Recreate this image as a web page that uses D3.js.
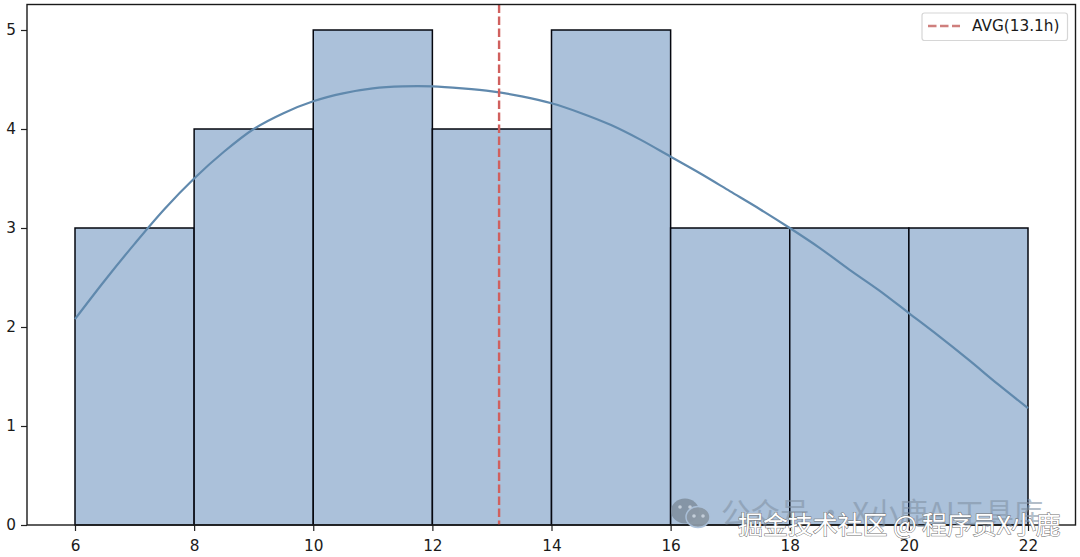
<!DOCTYPE html>
<html><head><meta charset="utf-8">
<script src="https://cdn.jsdelivr.net/npm/d3@7/dist/d3.min.js"></script>
<style>html,body{margin:0;padding:0;background:#fff;overflow:hidden}svg{display:block}</style>
</head><body><svg id="c" width="1080" height="557"></svg>
<script>
const binEdges = [6,8,10,12,14,16,18,20,22];
const counts = [3,4,5,4,5,3,3,3];
const kdeX = [6,6.5,7,7.5,8,8.5,9,9.5,10,10.5,11,11.5,12,12.5,13,13.5,14,14.5,15,15.5,16,16.5,17,17.5,18,18.5,19,19.5,20,20.5,21,21.5,22];
const kdeY = [2.08,2.47,2.84,3.19,3.5,3.77,4.0,4.16,4.28,4.36,4.41,4.43,4.43,4.41,4.38,4.33,4.26,4.16,4.04,3.89,3.72,3.55,3.37,3.19,3.0,2.8,2.58,2.37,2.14,1.91,1.67,1.42,1.18];
const avg = 13.12;
const xTicks = [6,8,10,12,14,16,18,20,22];
const yTicks = [0,1,2,3,4,5];
const legendLabel = "AVG(13.1h)";
const wm1 = "公众号 · X小鹿AI工具库";
const wm2 = "掘金技术社区 @ 程序员X小鹿";

const font = "'DejaVu Sans', sans-serif";
const svg = d3.select("#c");
const L=27,R=1075.5,T=4.5,B=525;
const x = d3.scaleLinear().domain([6,22]).range([75,1028]);
const y = d3.scaleLinear().domain([0,5]).range([B,30]);

const bars = d3.range(counts.length).map(i=>({a:binEdges[i],b:binEdges[i+1],c:counts[i]}));
svg.append("g").selectAll("rect").data(bars).join("rect")
  .attr("x",d=>x(d.a)).attr("width",d=>x(d.b)-x(d.a))
  .attr("y",d=>y(d.c)).attr("height",d=>B-y(d.c))
  .attr("fill","#abc1da").attr("stroke","#05070f").attr("stroke-width",1.5);

const line = d3.line().x((d,i)=>x(kdeX[i])).y(d=>y(d)).curve(d3.curveCatmullRom);
svg.append("path").attr("d",line(kdeY)).attr("fill","none").attr("stroke","#6089ad").attr("stroke-width",2.2);

svg.append("line").attr("x1",x(avg)).attr("x2",x(avg)).attr("y1",T).attr("y2",B)
  .attr("stroke","#d0605e").attr("stroke-width",2.4).attr("stroke-dasharray","8.5,3.5");

const gx = svg.append("g").attr("transform",`translate(0,${B})`)
  .call(d3.axisBottom(x).tickValues(xTicks).tickSize(6).tickPadding(5).tickFormat(d3.format("d")));
const gy = svg.append("g").attr("transform",`translate(${L},0)`)
  .call(d3.axisLeft(y).tickValues(yTicks).tickSize(6).tickPadding(5).tickFormat(d3.format("d")));
[gx,gy].forEach(g=>{
  g.select(".domain").remove();
  g.selectAll("line").attr("stroke","#222").attr("stroke-width",1.2);
  g.selectAll("text").attr("font-family",font).attr("font-size",15.3).attr("fill","#1a1a1a");
});
gx.selectAll("text").attr("dy","1em");
svg.append("rect").attr("x",L).attr("y",T).attr("width",R-L).attr("height",B-T)
  .attr("fill","none").attr("stroke","#1a1a1a").attr("stroke-width",1.4);

// legend
const lg = svg.append("g");
lg.append("rect").attr("x",922).attr("y",13).attr("width",145.5).attr("height",27.5).attr("rx",2.5)
  .attr("fill","#fff").attr("stroke","#d6d6d6").attr("stroke-width",1.2);
lg.append("line").attr("x1",928).attr("x2",960).attr("y1",26).attr("y2",26)
  .attr("stroke","#cf7f7d").attr("stroke-width",2.4).attr("stroke-dasharray","8.5,3.5");
lg.append("text").attr("x",972).attr("y",31).attr("font-family",font).attr("font-size",15.3).attr("fill","#1a1a1a").text(legendLabel);

// watermark
const wm = svg.append("g");
wm.append("ellipse").attr("cx",685).attr("cy",511).attr("rx",14).attr("ry",12.5).attr("fill","#7e8d9c").attr("opacity",0.85);
wm.append("ellipse").attr("cx",698).attr("cy",517).attr("rx",12).attr("ry",10.5).attr("fill","#8b98a5").attr("stroke","#abc1da").attr("stroke-width",1.5).attr("opacity",0.95);
[[680,507],[690,507],[694,516],[703,516]].forEach(p=>wm.append("circle").attr("cx",p[0]).attr("cy",p[1]).attr("r",1.8).attr("fill","#c3ced9"));
wm.append("text").attr("x",721).attr("y",524).attr("font-family","'Noto Sans CJK SC'").attr("font-size",29.5)
  .attr("fill","#8293a6").attr("opacity",0.6).text(wm1);
wm.append("text").attr("x",738).attr("y",534).attr("font-family","'Noto Sans CJK SC'").attr("font-size",24.9)
  .attr("fill","#fff").attr("stroke","#6f6f6f").attr("stroke-width",1).attr("paint-order","stroke").text(wm2);
</script></body></html>
